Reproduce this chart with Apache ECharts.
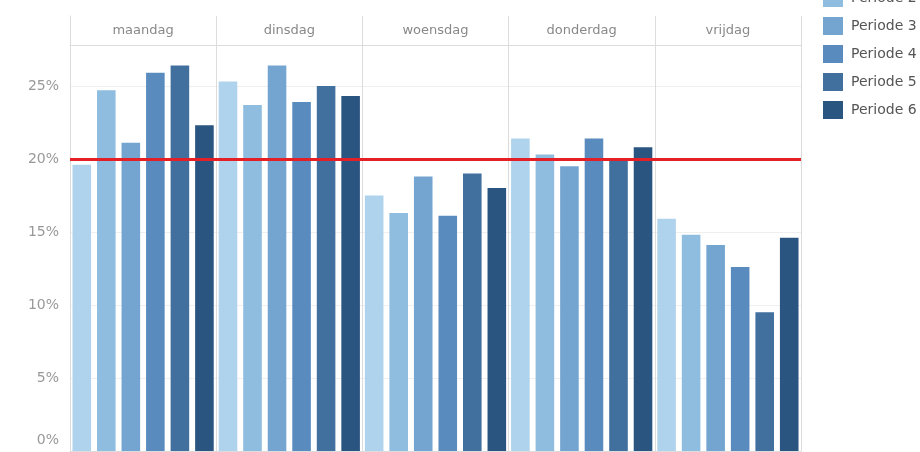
<!DOCTYPE html>
<html>
<head>
<meta charset="utf-8">
<script src="https://cdn.jsdelivr.net/npm/echarts@6/dist/echarts.min.js"></script>
<style>
html,body{margin:0;padding:0;background:#fff;}
#c{width:920px;height:452px;}
</style>
</head>
<body>
<div id="c"></div>
<script>
const days = ['maandag', 'dinsdag', 'woensdag', 'donderdag', 'vrijdag'];
const periods = ['Periode 1', 'Periode 2', 'Periode 3', 'Periode 4', 'Periode 5', 'Periode 6'];
const periode1 = [19.6, 25.3, 17.5, 21.4, 15.9];
const periode2 = [24.7, 23.7, 16.3, 20.3, 14.8];
const periode3 = [21.1, 26.4, 18.8, 19.5, 14.1];
const periode4 = [25.9, 23.9, 16.1, 21.4, 12.6];
const periode5 = [26.4, 25.0, 19.0, 19.9, 9.5];
const periode6 = [22.3, 24.3, 18.0, 20.8, 14.6];
const yTicks = [0, 5, 10, 15, 20, 25];
const target = 20;
const colors = ['#afd3ec', '#8fbde0', '#74a5d1', '#5a8bbf', '#41709f', '#2b5581'];

const seriesValues = [periode1, periode2, periode3, periode4, periode5, periode6];
const font = 'DejaVu Sans';

const chart = echarts.init(document.getElementById('c'), null, {renderer: 'canvas'});
const series = periods.map((name, i) => {
  const s = {
    name: name,
    type: 'bar',
    xAxisIndex: 0,
    yAxisIndex: 0,
    data: seriesValues[i],
    itemStyle: {color: colors[i]},
    barGap: '32%',
    barCategoryGap: '3.4%',
    emphasis: {disabled: true}
  };
  if (i === 0) {
    s.markLine = {
      silent: true,
      symbol: ['none', 'none'],
      label: {show: false},
      lineStyle: {color: '#e41f26', width: 3, type: 'solid'},
      data: [{yAxis: target}],
      z: 10
    };
  }
  return s;
});

chart.setOption({
  animation: false,
  color: colors,
  grid: [
    {left: 70, right: 119, top: 45, bottom: 1, containLabel: false},
    {left: 70, right: 119, top: 16, height: 29, containLabel: false}
  ],
  legend: {
    orient: 'vertical',
    left: 818,
    top: -44,
    itemWidth: 20,
    itemHeight: 18,
    itemGap: 10,
    icon: 'rect',
    textStyle: {fontFamily: font, fontSize: 14, color: '#555', padding: [0, 0, 0, 3]},
    data: periods
  },
  xAxis: [
    {
      type: 'category',
      gridIndex: 0,
      data: days,
      position: 'top',
      axisLine: {show: true, lineStyle: {color: '#dcdcdc', width: 1}},
      axisTick: {show: false},
      axisLabel: {show: false},
      splitLine: {show: true, lineStyle: {color: '#dcdcdc', width: 1}}
    },
    {
      type: 'category',
      gridIndex: 1,
      data: days,
      position: 'bottom',
      axisLine: {show: true, lineStyle: {color: '#dcdcdc', width: 1}},
      axisTick: {show: false},
      axisLabel: {inside: true, fontFamily: font, fontSize: 13, color: '#888', margin: 8},
      splitLine: {show: true, lineStyle: {color: '#dcdcdc', width: 1}}
    }
  ],
  yAxis: [
    {
      type: 'value',
      gridIndex: 0,
      min: 0,
      max: 27.8,
      interval: 5,
      axisLine: {show: true, lineStyle: {color: '#dcdcdc'}},
      axisTick: {show: false},
      splitLine: {show: true, lineStyle: {color: '#efefef', width: 1}},
      axisLabel: {
        fontFamily: font,
        fontSize: 14,
        color: '#999',
        margin: 11,
        formatter: function (v) {
          if (yTicks.indexOf(v) < 0) return '';
          if (v === 0) return '{z|0%}';
          return v + '%';
        },
        rich: {z: {fontFamily: font, fontSize: 14, color: '#999', padding: [0, 0, 22, 0]}}
      }
    },
    {
      type: 'value',
      gridIndex: 1,
      min: 0,
      max: 1,
      show: true,
      axisLine: {show: true, lineStyle: {color: '#dcdcdc'}},
      axisTick: {show: false},
      axisLabel: {show: false},
      splitLine: {show: false}
    }
  ],
  series: series
});
</script>
</body>
</html>
